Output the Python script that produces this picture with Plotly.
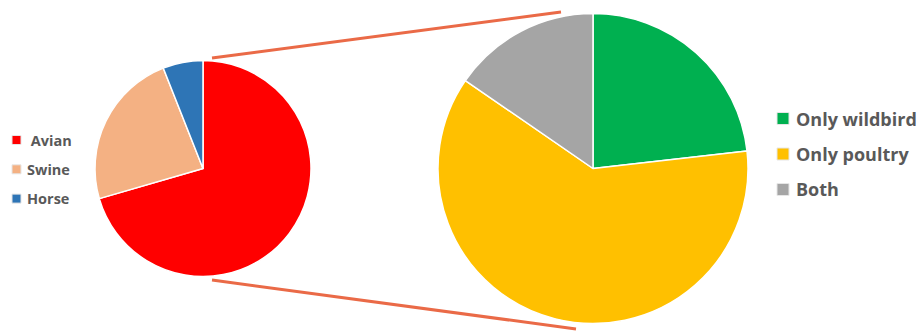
import plotly.graph_objects as go

# Host species share of isolates
host_labels = [" Avian", "Swine", "Horse"]
host_values = [70.5, 23.5, 6.0]
host_colors = ["#FF0000", "#F4B183", "#2E75B6"]

# Breakdown of the avian isolates by source
avian_labels = ["Only wildbird", "Only poultry", "Both"]
avian_values = [23.2, 61.4, 15.4]
avian_colors = ["#00B050", "#FFC000", "#A5A5A5"]

W, H = 920, 334


def px(x):
    return x / W


def py(y):
    return 1 - y / H


def pie_domain(cx, cy, r):
    return dict(x=[px(cx - r), px(cx + r)], y=[py(cy + r), py(cy - r)])


fig = go.Figure()

fig.add_trace(go.Pie(
    labels=host_labels, values=host_values,
    marker=dict(colors=host_colors, line=dict(color="white", width=1.5)),
    sort=False, direction="clockwise", rotation=0,
    textinfo="none", showlegend=False,
    domain=pie_domain(203, 168.5, 108),
))

fig.add_trace(go.Pie(
    labels=avian_labels, values=avian_values,
    marker=dict(colors=avian_colors, line=dict(color="white", width=1.5)),
    sort=False, direction="clockwise", rotation=0,
    textinfo="none", showlegend=False,
    domain=pie_domain(593, 168.5, 155),
))

shapes = []
annotations = []

# Connector lines from the avian slice to the breakdown pie
line_style = dict(color="#EA6A47", width=3)
shapes.append(dict(type="line", xref="paper", yref="paper",
                   x0=px(212), y0=py(58), x1=px(561), y1=py(12), line=line_style))
shapes.append(dict(type="line", xref="paper", yref="paper",
                   x0=px(212), y0=py(280), x1=px(576), y1=py(329), line=line_style))


def legend_block(labels, colors, x_box, box, x_text, y0, dy, size):
    for i, (lab, col) in enumerate(zip(labels, colors)):
        yc = y0 + i * dy
        shapes.append(dict(type="rect", xref="paper", yref="paper",
                           x0=px(x_box), x1=px(x_box + box),
                           y0=py(yc + box / 2), y1=py(yc - box / 2),
                           fillcolor=col, line=dict(color="#E6E6E6", width=1)))
        text = lab.replace(" ", "\u00a0")
        annotations.append(dict(text=f"<b>{text}</b>", xref="paper", yref="paper",
                                x=px(x_text), y=py(yc), xanchor="left", yanchor="middle",
                                showarrow=False,
                                font=dict(family="Open Sans", size=size, color="#595959")))


legend_block(host_labels, host_colors, 12, 9, 24.5, 140, 29.3, 14.5)
legend_block(avian_labels, avian_colors, 777, 12, 794, 118.5, 35.5, 18)

fig.update_layout(
    width=W, height=H,
    margin=dict(l=0, r=0, t=0, b=0),
    paper_bgcolor="white", plot_bgcolor="white",
    shapes=shapes, annotations=annotations,
)

fig.write_html("out.html")
